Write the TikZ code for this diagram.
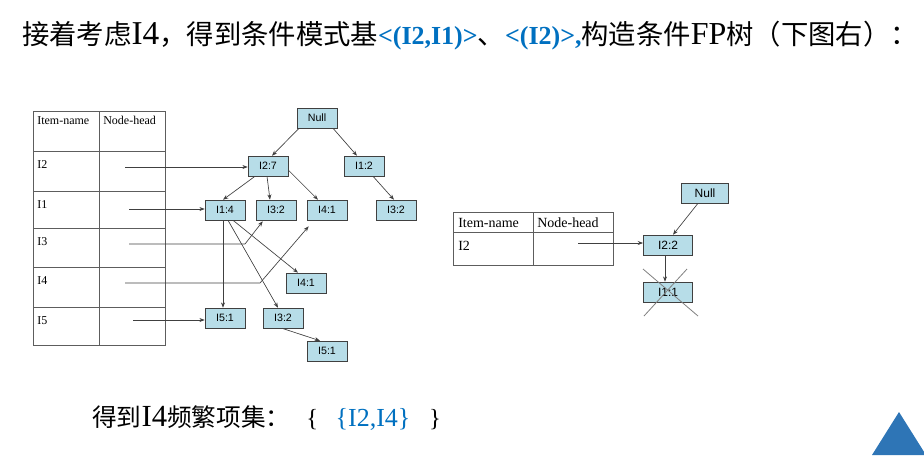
\documentclass[tikz,border=0pt]{standalone}
\usepackage{fontspec}
\setmainfont{Liberation Serif}
\setsansfont{Liberation Sans}
\newfontfamily\cjk{Noto Sans CJK SC}
\usetikzlibrary{positioning,calc,arrows.meta}
\definecolor{nodecyan}{RGB}{183,221,232}
\definecolor{linegray}{RGB}{64,64,64}
\definecolor{titleblue}{RGB}{0,112,192}
\definecolor{triblue}{RGB}{46,117,182}
\newcommand\latinat[2]{{\fontsize{#1}{24}\selectfont #2}}
\tikzset{
  treenode/.style={draw=linegray, fill=nodecyan, minimum width=30pt, minimum height=15pt, inner sep=0pt, font=\sffamily\fontsize{8}{9}\selectfont},
  bignode/.style={treenode, minimum width=37pt, font=\sffamily\fontsize{9}{10}\selectfont},
  link/.style={draw=linegray, line width=0.5pt, -{Stealth[length=4pt,width=3pt]}},
  cell/.style={anchor=north west, inner sep=0pt, font=\fontsize{9}{10}\selectfont},
  bigcell/.style={anchor=west, inner sep=0pt, font=\fontsize{10.5}{12}\selectfont},
  grid/.style={draw=linegray!85, line width=0.6pt}
}

\begin{document}
\begin{tikzpicture}[x=0.75pt,y=-0.75pt]
\useasboundingbox (0,0) rectangle (924,455);
% Title
\node[anchor=west, inner sep=0pt, font=\fontsize{20.5}{24}\selectfont] (title) at (22,36)
  {{\cjk 接着考虑}\latinat{25}{I4}{\cjk ，得到条件模式基}\textcolor{titleblue}{\latinat{19.5}{\textbf{<(I2,I1)>}}}{\cjk 、}\textcolor{titleblue}{\latinat{19.5}{\textbf{<(I2)>,}}}{\cjk 构造条件}\latinat{24}{FP}{\cjk 树（下图右）：}};

% Header table (left)
\draw[grid] (33,111) rectangle (165,345);
\draw[grid] (99,111) -- (99,345);
\node[cell] (hname) at (37,116) {Item-name};
\node[cell] (hhead) at (103,116) {Node-head};
\foreach \y/\t in {151/2,191/1,228/3,267/4,307/5} {
  \draw[grid] (33,\y) -- (165,\y);
  \node[cell] (item\t) at (37,{\y+9}) {I\t};
}

% FP tree (left)
\node[treenode] (null) at (317,118) {Null};
\node[treenode] (i27) at (268,166) {I2:7};
\node[treenode] (i12) at (364,166) {I1:2};
\node[treenode] (i14) at (225,210) {I1:4};
\node[treenode] (i32) at (276,210) {I3:2};
\node[treenode] (i41) at (327,210) {I4:1};
\node[treenode] (i32r) at (396,210) {I3:2};
\node[treenode] (i41b) at (306,283) {I4:1};
\node[treenode] (i51) at (225,318) {I5:1};
\node[treenode] (i32b) at (283,318) {I3:2};
\node[treenode] (i51b) at (327,351) {I5:1};

% Tree links
\draw[link] ($(null.south)+(-18,0)$) -- ($(i27.north)+(4,0)$);
\draw[link] ($(null.south)+(16,0)$) -- ($(i12.north)+(-7,0)$);
\draw[link] ($(i27.south)+(-13,0)$) -- ($(i14.north)+(-2,0)$);
\draw[link] ($(i27.south)+(-1,0)$) -- ($(i32.north)+(-6,0)$);
\draw[link] ($(i27.east)+(0,4)$) -- ($(i41.north)+(-9,0)$);
\draw[link] ($(i12.south)+(9,0)$) -- ($(i32r.north)+(-2,0)$);
\draw[link] ($(i14.south)+(-2,0)$) -- ($(i51.north)+(-2,0)$);
\draw[link] ($(i14.south)+(3,0)$) -- ($(i32b.north)+(-5,0)$);
\draw[link] ($(i14.south)+(8,0)$) -- ($(i41b.north)+(-8,0)$);
\draw[link] ($(i32b.south)+(-1,0)$) -- ($(i51b.north)+(-7,0)$);

% Node-head links
\coordinate (h2) at (125,167);
\coordinate (h1) at (129,209);
\coordinate (h3) at (129,244);
\coordinate (h4) at (125,283);
\coordinate (h5) at (133,320);
\draw[link] (h2) -- (h2 -| i27.west);
\draw[link] (h1) -- (h1 -| i14.west);
\draw[link] (h3) -- (245,244) -- ($(i32.south west)+(7,1)$);
\draw[link] (h4) -- (260,283) -- ($(i41.south west)+(2,6)$);
\draw[link] (h5) -- (h5 -| i51.west);

% Header table (right)
\draw[grid] (453,212) rectangle (613,265);
\draw[grid] (533,212) -- (533,265);
\draw[grid] (453,232) -- (613,232);
\node[bigcell] (rname) at (458,223) {Item-name};
\node[bigcell] (rhead) at (537,223) {Node-head};
\node[bigcell] (ritem2) at (458,246) {I2};

% Conditional FP tree (right)
\node[bignode, minimum width=35pt] (rnull) at (705,193) {Null};
\node[bignode] (r22) at (668,245) {I2:2};
\node[bignode] (r11) at (668,292) {I1:1};
\coordinate (rh2) at (578,243);
\draw[link] (rh2) -- (rh2 -| r22.west);
\draw[link] ($(rnull.south)+(-7,0)$) -- ($(r22.north)+(5,0)$);
\draw[link] ($(r22.south)+(-3,0)$) -- ($(r11.north)+(-3,0)$);
% Cross
\draw[gray, line width=0.6pt] ($(r11)+(-25,-23)$) -- ($(r11)+(30,24)$);
\draw[gray, line width=0.6pt] ($(r11)+(19,-23)$) -- ($(r11)+(-24,24)$);

% Result
\node[anchor=west, inner sep=0pt, font=\fontsize{18.5}{22}\selectfont] (result) at (92,418)
  {{\cjk 得到}\latinat{23}{I4}{\cjk 频繁项集：}\hspace{12pt}\{\hspace{13pt}\textcolor{titleblue}{\latinat{19.5}{\{I2,I4\}}}\hspace{14pt}\}};

% Corner triangle
\fill[triblue] (899,412) -- (872,455) -- (926,455) -- cycle;
\end{tikzpicture}
\end{document}
